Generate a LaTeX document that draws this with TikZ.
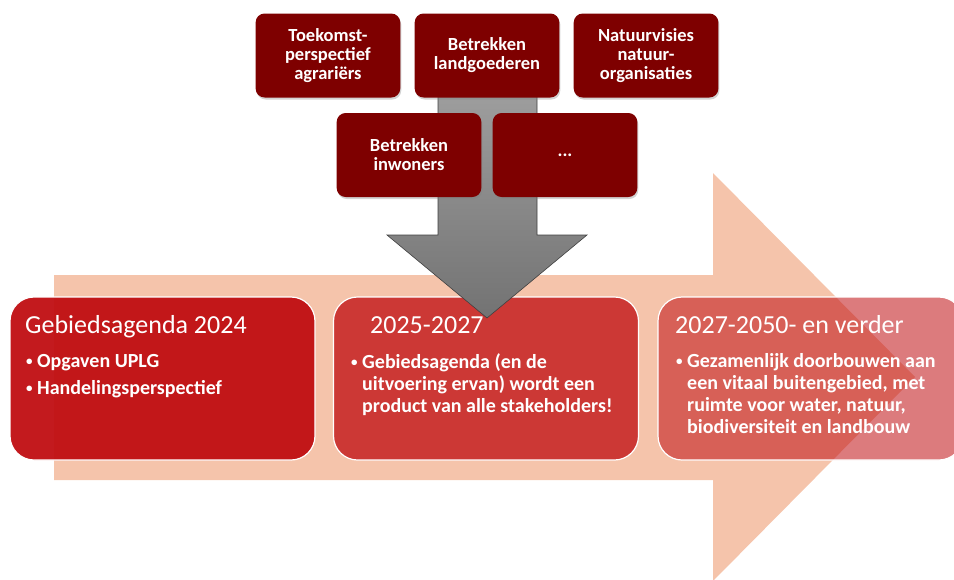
\documentclass[tikz,border=0pt]{standalone}
\usepackage{fontspec}
\setmainfont{Carlito}
\usetikzlibrary{positioning,shadows}

\definecolor{perzik}{RGB}{245,196,171}
\definecolor{donkerrood}{RGB}{126,0,0}
\definecolor{fasrood}{RGB}{192,14,18}
\newcommand{\punt}{\makebox[12pt][l]{\hspace{1pt}\raisebox{1.5pt}{\fontsize{13}{13}\selectfont•}}}

\begin{document}
\begin{tikzpicture}[x=1pt,y=-1pt,
    partij/.style={fill=donkerrood, rounded corners=9pt, minimum width=142pt,
        minimum height=84pt, text width=138pt, align=center, text=white,
        font=\fontsize{18.5}{19}\selectfont\bfseries,
        drop shadow={opacity=0.35, shadow xshift=1pt, shadow yshift=-2pt}},
    fase/.style={fill=fasrood, draw=white, line width=1.2pt, rounded corners=24pt,
        minimum width=305pt, minimum height=163pt},
    kop/.style={inner sep=0pt, text=white, anchor=base west,
        font=\fontsize{26}{30}\selectfont},
    lijst/.style={inner sep=0pt, text=white, align=left, anchor=north west,
        font=\fontsize{20}{22}\selectfont\bfseries}]
    \useasboundingbox (0,0) rectangle (954,579);

    % tijdlijn
    \fill[perzik] (54,275) -- (713,275) -- (713,173) -- (915,377)
        -- (713,581) -- (713,480) -- (54,480) -- cycle;

    \node[fase, fill opacity=0.95] (fase1) at (162.5,378.5) {};
    \node[fase, fill opacity=0.77] (fase2) at (486,378.5) {};
    \node[fase, fill opacity=0.55] (fase3) at (810.5,378.5) {};

    % stakeholders naar de gebiedsagenda
    \shade[top color=black!38, bottom color=black!55, draw=black!75, line width=0.6pt]
        (438,90) -- (537,90) -- (537,235) -- (587,235) -- (487,318)
        -- (387,235) -- (438,235) -- cycle;

    \node[partij] (land) at (487,55.5) {Betrekken\\landgoederen};
    \node[partij, left=14pt of land] (agrar) {Toekomst-\\perspectief\\agrariërs};
    \node[partij, right=14pt of land] (natuur) {Natuurvisies\\natuur-\\organisaties};
    \node[partij] (inwon) at (409,155) {Betrekken\\inwoners};
    \node[partij] (meer) at (565,155) {...};

    \node[kop] (kop1) at (25,333) {Gebiedsagenda 2024};
    \node[kop] (kop2) at (370,333) {2025-2027};
    \node[kop] (kop3) at (675,333) {2027-2050- en verder};

    \node[lijst] (lijst1) at (25,354) {\punt Opgaven UPLG\\[5pt]\punt Handelingsperspectief};
    \node[lijst] (lijst2) at (350,353) {\punt Gebiedsagenda (en de\\
        \hspace*{12pt}uitvoering ervan) wordt een\\
        \hspace*{12pt}product van alle stakeholders!};
    \node[lijst] (lijst3) at (675,353) {\punt Gezamenlijk doorbouwen aan\\
        \hspace*{12pt}een vitaal buitengebied, met\\
        \hspace*{12pt}ruimte voor water, natuur,\\
        \hspace*{12pt}biodiversiteit en landbouw};
\end{tikzpicture}
\end{document}
